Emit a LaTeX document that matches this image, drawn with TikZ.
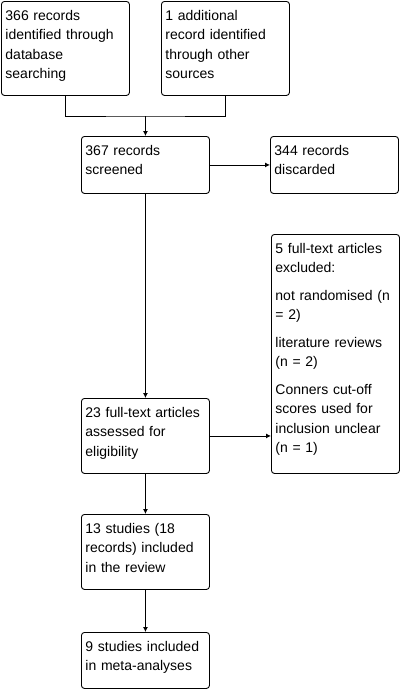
\documentclass[tikz,border=0pt]{standalone}
\usepackage{fontspec}
\setmainfont{Liberation Sans}
\usetikzlibrary{arrows.meta}
\tikzstyle{flowbox}=[draw, line width=0.9pt, rounded corners=3pt, anchor=north west, align=left, text width=120pt, inner xsep=4pt, inner ysep=5pt, text height=14pt, font=\fontsize{14}{19.5}\selectfont]
\tikzstyle{flowarrow}=[line width=0.9pt, -{Latex[length=5pt,width=5pt]}]
\tikzstyle{flowline}=[line width=0.9pt]
\begin{document}
\begin{tikzpicture}[x=1pt, y=-1pt]
 \useasboundingbox (0,0) rectangle (400,689);
%
 \node[flowbox, text depth=70pt] (database) at (1,1) {366 records\\ identified through\\ database\\ searching};
 \node[flowbox, text depth=70pt] (other) at (161,1) {1 additional\\ record identified\\ through other\\ sources};
 \node[flowbox, text depth=33pt] (screened) at (81,136) {367 records\\ screened};
 \node[flowbox, text depth=33pt] (discarded) at (270,136) {344 records\\ discarded};
 \node[flowbox, text depth=215pt] (excluded) at (271,234) {5 full-text articles\\ excluded:\\[8pt] not randomised (n\\ = 2)\\[8pt] literature reviews\\ (n = 2)\\[8pt] Conners cut-off\\ scores used for\\ inclusion unclear\\ (n = 1)};
 \node[flowbox, text depth=51pt] (assessed) at (81,398) {23 full-text articles\\ assessed for\\ eligibility};
 \node[flowbox, text depth=51pt] (review) at (81,514) {13 studies (18\\ records) included\\ in the review};
 \node[flowbox, text depth=32pt] (meta) at (81,632) {9 studies included\\ in meta-analyses};
%
 \coordinate (join) at (screened.north |- 0,116);
 \draw[flowline] (database.south) |- (join) -| (other.south);
 \draw[flowarrow] (join) -- (screened.north);
 \draw[flowarrow] (screened.east) -- (discarded.west |- screened.east);
 \draw[flowarrow] (screened.south) -- (assessed.north);
 \draw[flowarrow] (assessed.east) -- (excluded.west |- assessed.east);
 \draw[flowarrow] (assessed.south) -- (review.north);
 \draw[flowarrow] (review.south) -- (meta.north);
\end{tikzpicture}
\end{document}
